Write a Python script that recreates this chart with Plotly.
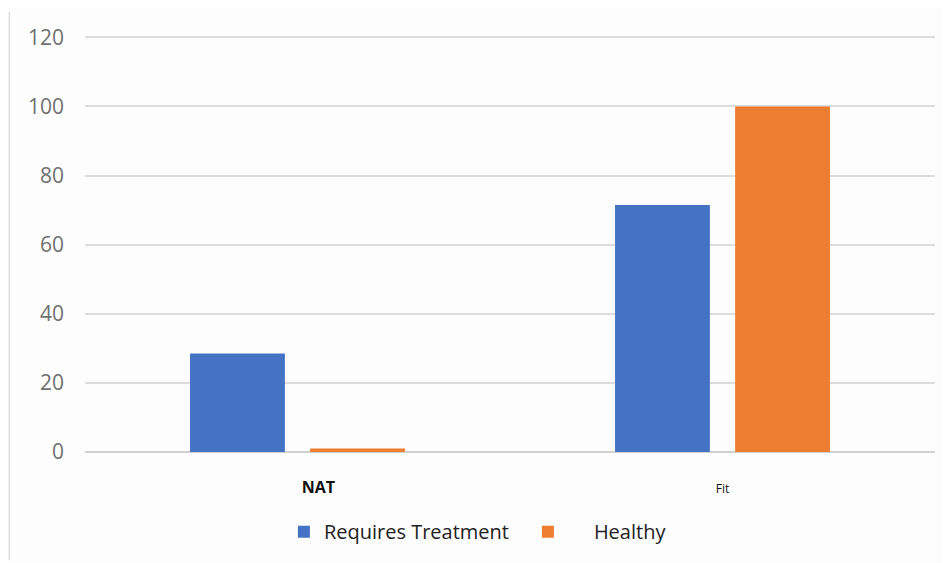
import plotly.graph_objects as go

categories = ["NAT", "Fit"]
tick_labels = ["\u00a0" * 10 + "<b>NAT</b>", "<span style='font-size:12px'>Fit</span>"]
series_names = ["Requires Treatment", "Healthy"]
requires_treatment = [28.5, 71.5]
healthy = [1, 100]
y_ticks = [0, 20, 40, 60, 80, 100, 120]

fig = go.Figure()
fig.add_trace(go.Bar(x=categories, y=requires_treatment, name=series_names[0],
                     marker=dict(color="#4472C4", line=dict(width=0))))
fig.add_trace(go.Bar(x=categories, y=healthy, name="\u00a0" * 5 + series_names[1],
                     marker=dict(color="#ED7D31", line=dict(width=0))))

fig.update_layout(
    width=942, height=555,
    margin=dict(l=77, r=15, t=28, b=104),
    paper_bgcolor="#fdfdfd", plot_bgcolor="#fdfdfd",
    barmode="group", bargap=0.435, bargroupgap=0.21,
    font=dict(family="Open Sans, sans-serif", color="#222222"),
    legend=dict(orientation="h", x=0.234, xanchor="left", y=-0.1915, yanchor="middle",
                font=dict(size=20, color="#222222"), bgcolor="rgba(0,0,0,0)",
                itemwidth=30, traceorder="normal", entrywidth=199, entrywidthmode="pixels"),
    showlegend=True,
)
fig.update_xaxes(tickvals=categories, ticktext=tick_labels, showgrid=False, showline=False,
                 zeroline=False, ticks="", tickfont=dict(size=16, color="#111111"),
                 ticklabelstandoff=24)
fig.update_yaxes(range=[0, 120.4], tickvals=y_ticks, showgrid=True, gridcolor="#dcdcdc",
                 gridwidth=1.5, zeroline=True, zerolinecolor="#d0d0d0", zerolinewidth=1.5,
                 showline=False, ticks="", tickfont=dict(size=21, color="#707070"),
                 ticklabelstandoff=20)
fig.add_shape(type="line", xref="paper", yref="paper", x0=-0.089, x1=-0.089, y0=-0.26, y1=1.057,
              line=dict(color="#dddddd", width=1.5))

fig.write_html("out.html")
